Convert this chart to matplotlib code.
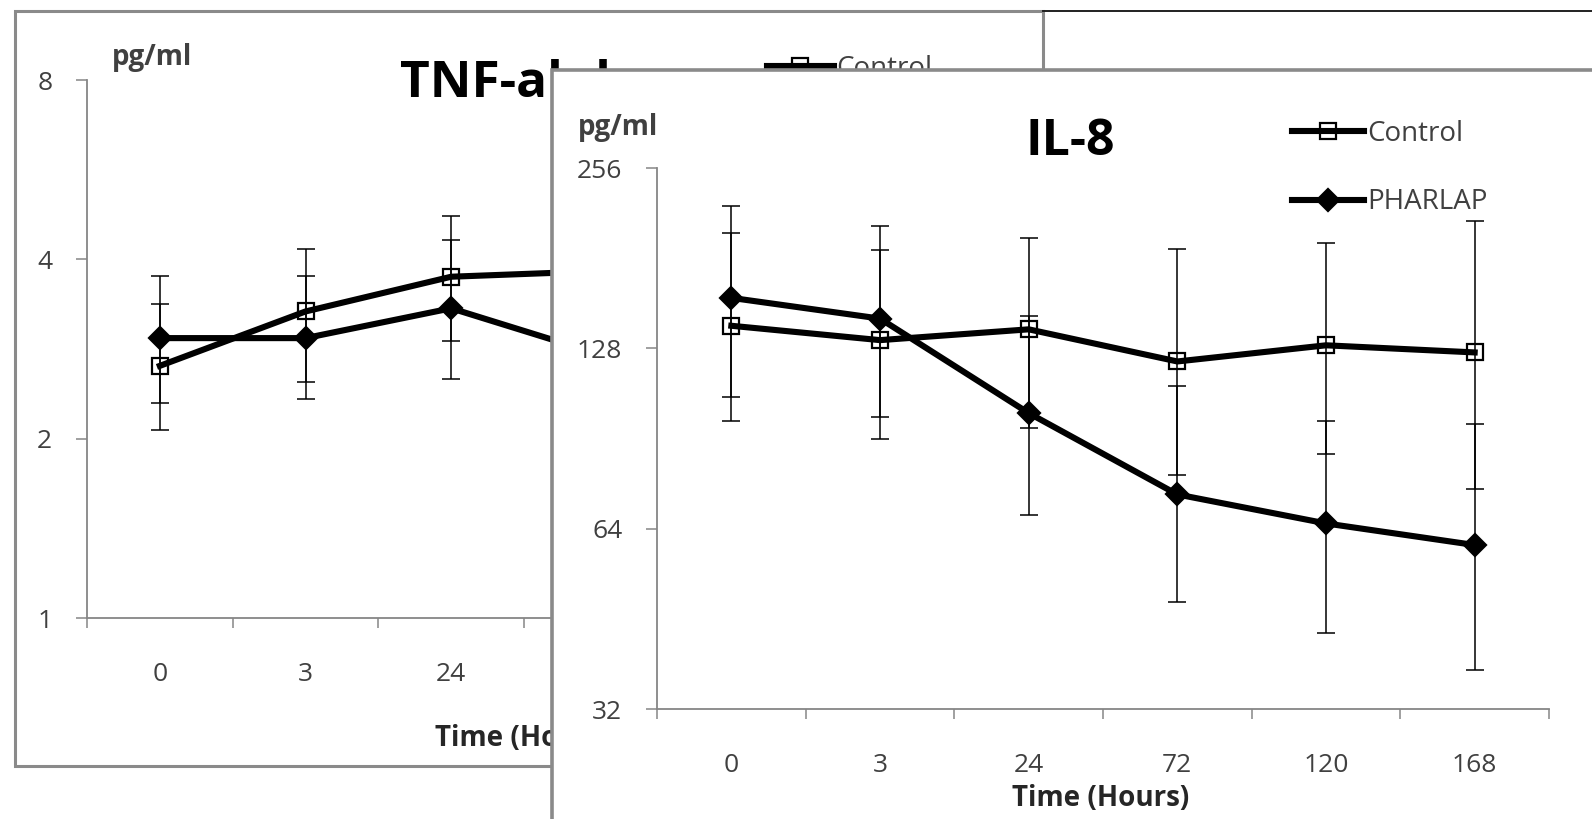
import matplotlib

matplotlib.use("Agg")

import matplotlib.pyplot as plt
import numpy as np
from matplotlib.lines import Line2D
from matplotlib.patches import Rectangle
from matplotlib.ticker import FixedFormatter, NullLocator

W, H = 1592, 819
plt.rcParams["font.family"] = ["Open Sans", "DejaVu Sans"]

hours = ["0", "3", "24", "72", "120", "168"]

# TNF-alpha panel (back, mostly hidden behind the IL-8 panel)
tnf_ticks = [1, 2, 4, 8]
tnf_control = [2.65, 3.27, 3.74, 3.82]
tnf_control_lo = [2.07, 2.33, 2.92]
tnf_control_hi = [3.37, 4.17, 4.73]
tnf_pharlap = [2.95, 2.95, 3.31, 2.78]
tnf_pharlap_lo = [2.30, 2.49, 2.52]
tnf_pharlap_hi = [3.75, 3.75, 4.31]

# IL-8 panel (front)
il8_ticks = [32, 64, 128, 256]
il8_control = [139.6, 132.1, 137.7, 121.7, 129.5, 126.0]
il8_control_lo = [96.8, 90.3, 94.1, 78.7, 85.4, 74.5]
il8_control_hi = [199.4, 186.8, 195.8, 187.5, 191.9, 208.5]
il8_pharlap = [155.4, 143.5, 99.8, 73.0, 65.3, 60.1]
il8_pharlap_lo = [106.3, 98.4, 67.5, 48.2, 42.9, 37.2]
il8_pharlap_hi = [221.4, 205.1, 144.9, 110.8, 96.8, 95.6]

AXIS_GRAY = "#868686"
TEXT_GRAY = "#404040"
FRAME_GRAY = "#8a8a8a"


def fx(x):
    return x / W


def fy(y):
    return 1 - y / H


def box(left, top, right, bottom):
    return [fx(left), fy(bottom), (right - left) / W, (bottom - top) / H]


def style_axes(ax, ticks, ylim):
    ax.set_yscale("log", base=2)
    ax.set_ylim(*ylim)
    ax.set_yticks(ticks)
    ax.yaxis.set_major_formatter(FixedFormatter([str(t) for t in ticks]))
    ax.yaxis.set_minor_locator(NullLocator())
    ax.set_xlim(-0.5, len(hours) - 0.5)
    ax.set_xticks(np.arange(-0.5, len(hours), 1.0))
    ax.set_xticks(np.arange(len(hours)), minor=True)
    ax.set_xticklabels(hours, minor=True)
    ax.tick_params(axis="x", which="major", length=7, width=1.1, color=AXIS_GRAY, labelbottom=False)
    ax.tick_params(axis="x", which="minor", length=0, pad=32, labelsize=19, labelcolor=TEXT_GRAY)
    ax.tick_params(axis="y", which="major", length=8, width=1.1, color=AXIS_GRAY, pad=17,
                   labelsize=19, labelcolor=TEXT_GRAY)
    for side in ("top", "right"):
        ax.spines[side].set_visible(False)
    for side in ("left", "bottom"):
        ax.spines[side].set_color(AXIS_GRAY)
        ax.spines[side].set_linewidth(1.3)
    ax.patch.set_alpha(0)


def draw_series(ax, values, lo, hi, marker, ms, face):
    x = np.arange(len(values))
    (line,) = ax.plot(x, values, color="black", lw=4.4, marker=marker, ms=ms, mfc=face,
                      mec="black", mew=1.6, zorder=3, clip_on=False)
    n = len(lo)
    v = np.asarray(values[:n], dtype=float)
    ax.errorbar(x[:n], v, yerr=[v - np.asarray(lo), np.asarray(hi) - v], fmt="none",
                ecolor="black", elinewidth=1.1, capsize=6.5, capthick=1.1, zorder=4)
    return line


fig = plt.figure(figsize=(W / 100, H / 100), dpi=100)

# back panel frame
fig.add_artist(Rectangle((fx(15), fy(766)), (1043 - 15) / W, (766 - 11) / H, transform=fig.transFigure,
                         facecolor="white", edgecolor=FRAME_GRAY, lw=2.2, zorder=-1))
fig.add_artist(Line2D([fx(1043), 1.0], [fy(11), fy(11)], transform=fig.transFigure,
                      color="#202020", lw=1.4, zorder=-0.5))

ax_tnf = fig.add_axes(box(87, 80, 961, 618), zorder=0)
style_axes(ax_tnf, tnf_ticks, (1, 8))
tnf_c_line = draw_series(ax_tnf, tnf_control, tnf_control_lo, tnf_control_hi, "s", 12, "none")
tnf_p_line = draw_series(ax_tnf, tnf_pharlap, tnf_pharlap_lo, tnf_pharlap_hi, "D", 11, "black")
ax_tnf.legend([tnf_c_line, tnf_p_line], ["Control", "PHARLAP"], loc="upper left",
              bbox_to_anchor=(fx(767), fy(55)), bbox_transform=fig.transFigure, frameon=False,
              fontsize=20, handlelength=2.4, handletextpad=0.1, labelspacing=1.45, borderpad=0,
              borderaxespad=0, numpoints=1, labelcolor=TEXT_GRAY)

fig.text(fx(112), fy(58), "pg/ml", ha="left", va="center", fontsize=20, fontweight="bold",
         color=TEXT_GRAY, zorder=0.5)
fig.text(fx(400), fy(97), "TNF-alpha", ha="left", va="baseline", fontsize=37, fontweight="bold",
         color="black", zorder=0.5)
fig.text(fx(524), fy(738), "Time (Hours)", ha="center", va="center", fontsize=20, fontweight="bold",
         color="#262626", zorder=0.5)

# front panel frame
fig.add_artist(Rectangle((fx(552), fy(840)), (1620 - 552) / W, (840 - 70) / H, transform=fig.transFigure,
                         facecolor="white", edgecolor=FRAME_GRAY, lw=2.6, zorder=1))

ax_il8 = fig.add_axes(box(657, 168, 1549, 709), zorder=2)
style_axes(ax_il8, il8_ticks, (32, 256))
il8_c_line = draw_series(ax_il8, il8_control, il8_control_lo, il8_control_hi, "s", 12, "none")
il8_p_line = draw_series(ax_il8, il8_pharlap, il8_pharlap_lo, il8_pharlap_hi, "D", 11, "black")
ax_il8.legend([il8_c_line, il8_p_line], ["Control", "PHARLAP"], loc="upper left",
              bbox_to_anchor=(fx(1292), fy(120)), bbox_transform=fig.transFigure, frameon=False,
              fontsize=20, handlelength=2.6, handletextpad=0.1, labelspacing=1.45, borderpad=0,
              borderaxespad=0, numpoints=1, labelcolor=TEXT_GRAY)

fig.text(fx(578), fy(127), "pg/ml", ha="left", va="center", fontsize=20, fontweight="bold",
         color=TEXT_GRAY, zorder=3)
fig.text(fx(1025), fy(155), "IL-8", ha="left", va="baseline", fontsize=36, fontweight="bold",
         color="black", zorder=3)
fig.text(fx(1101), fy(799), "Time (Hours)", ha="center", va="center", fontsize=20, fontweight="bold",
         color="#262626", zorder=3)

fig.savefig("out.png", dpi=100)
